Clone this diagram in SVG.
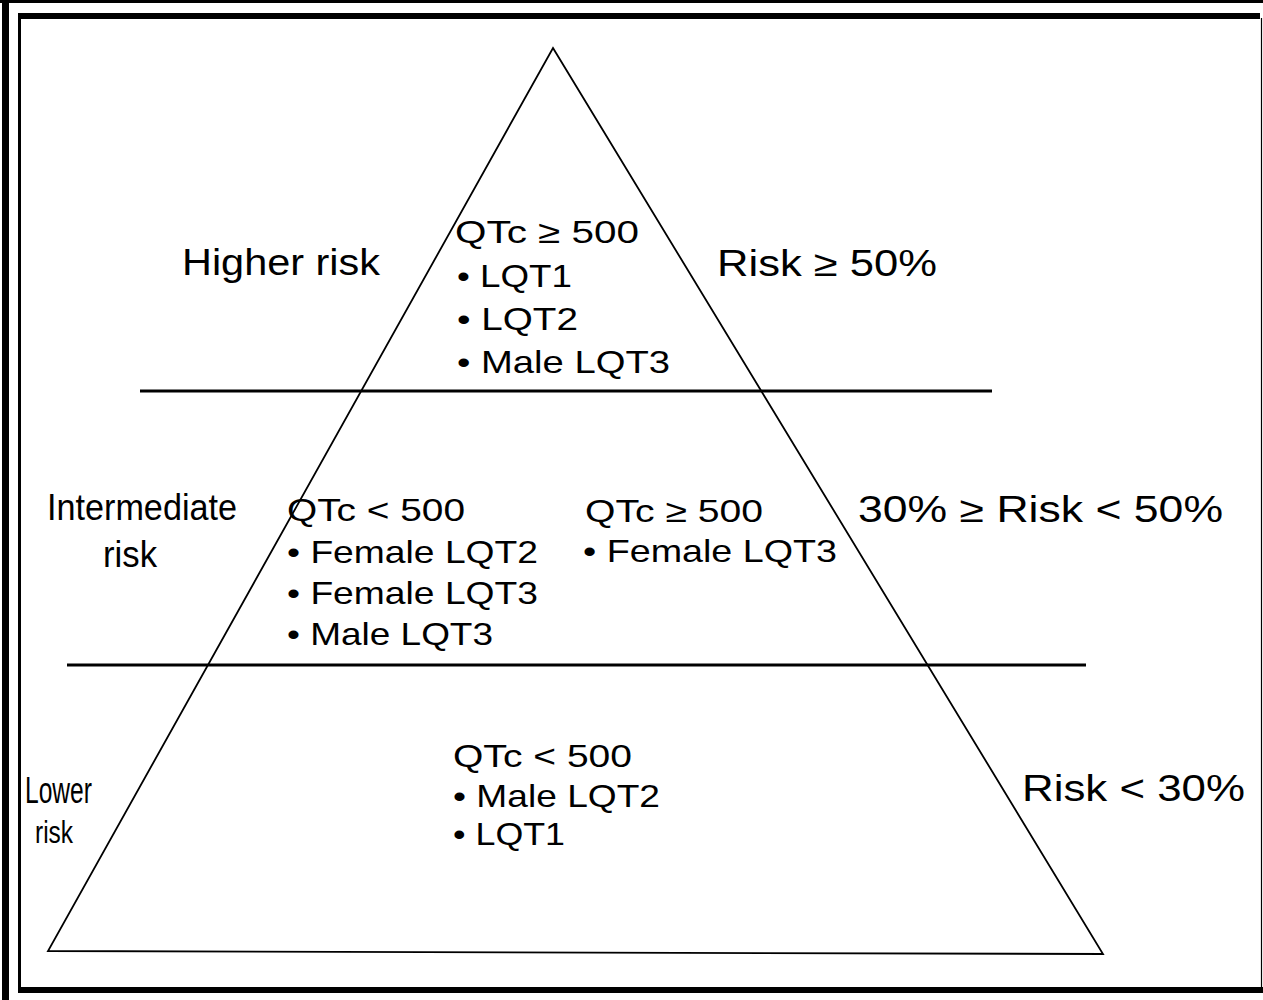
<svg xmlns="http://www.w3.org/2000/svg" width="1263" height="1000" viewBox="0 0 1263 1000">
<style>
  text { font-family: "Liberation Sans", Arial, sans-serif; fill: #000; }
  .lbl { font-size: 37px; }
  .big { font-size: 36px; }
  .t { font-size: 32px; }
  .frame { stroke: #000; fill: none; }
  .tri { stroke: #000; stroke-width: 1.8; fill: none; stroke-linejoin: miter; }
  .div { stroke: #000; stroke-width: 3; }
</style>
<rect x="0" y="0" width="1263" height="1000" fill="#fff"/>
<g id="frame">
  <rect x="0" y="0" width="1263" height="3" fill="#000"/>
  <rect x="2" y="0" width="7" height="1000" fill="#000"/>
  <rect x="18" y="13" width="1242" height="6" fill="#000"/>
  <rect x="18" y="13" width="3" height="980" fill="#000"/>
  <rect x="18" y="987" width="1245" height="6" fill="#000"/>
  <line class="frame" x1="1261.5" y1="18" x2="1261.5" y2="993" stroke-width="1.2"/>
</g>
<g id="pyramid">
  <polygon class="tri" points="553,48 1103,954 48,951"/>
</g>
<g id="connectors">
  <line class="div" x1="140" y1="391" x2="992" y2="391"/>
  <line class="div" x1="67" y1="665" x2="1086" y2="665"/>
</g>
<g id="tier-high">
  <text class="lbl" x="182" y="275" textLength="198" lengthAdjust="spacingAndGlyphs">Higher risk</text>
  <text class="t" x="455" y="243" textLength="184" lengthAdjust="spacingAndGlyphs">QTc ≥ 500</text>
  <text class="t" x="457" y="287" textLength="115" lengthAdjust="spacingAndGlyphs">• LQT1</text>
  <text class="t" x="457" y="330" textLength="121" lengthAdjust="spacingAndGlyphs">• LQT2</text>
  <text class="t" x="457" y="373" textLength="213" lengthAdjust="spacingAndGlyphs">• Male LQT3</text>
  <text class="big" x="717" y="276" textLength="220" lengthAdjust="spacingAndGlyphs">Risk ≥ 50%</text>
</g>
<g id="tier-intermediate">
  <text class="big" x="47" y="520" textLength="190" lengthAdjust="spacingAndGlyphs">Intermediate</text>
  <text class="big" x="103" y="567" textLength="54" lengthAdjust="spacingAndGlyphs">risk</text>
  <text class="t" x="287" y="521" textLength="178" lengthAdjust="spacingAndGlyphs">QTc &lt; 500</text>
  <text class="t" x="287" y="563" textLength="251" lengthAdjust="spacingAndGlyphs">• Female LQT2</text>
  <text class="t" x="287" y="604" textLength="251" lengthAdjust="spacingAndGlyphs">• Female LQT3</text>
  <text class="t" x="287" y="645" textLength="206" lengthAdjust="spacingAndGlyphs">• Male LQT3</text>
  <text class="t" x="585" y="522" textLength="178" lengthAdjust="spacingAndGlyphs">QTc ≥ 500</text>
  <text class="t" x="583" y="562" textLength="254" lengthAdjust="spacingAndGlyphs">• Female LQT3</text>
  <text class="big" x="858" y="522" textLength="365" lengthAdjust="spacingAndGlyphs">30% ≥ Risk &lt; 50%</text>
</g>
<g id="tier-lower">
  <text class="big" x="25" y="803" textLength="67" lengthAdjust="spacingAndGlyphs">Lower</text>
  <text class="t" x="35" y="843" textLength="38" lengthAdjust="spacingAndGlyphs">risk</text>
  <text class="t" x="453" y="767" textLength="179" lengthAdjust="spacingAndGlyphs">QTc &lt; 500</text>
  <text class="t" x="453" y="807" textLength="207" lengthAdjust="spacingAndGlyphs">• Male LQT2</text>
  <text class="t" x="453" y="845" textLength="112" lengthAdjust="spacingAndGlyphs">• LQT1</text>
  <text class="big" x="1022" y="801" textLength="223" lengthAdjust="spacingAndGlyphs">Risk &lt; 30%</text>
</g>
</svg>
